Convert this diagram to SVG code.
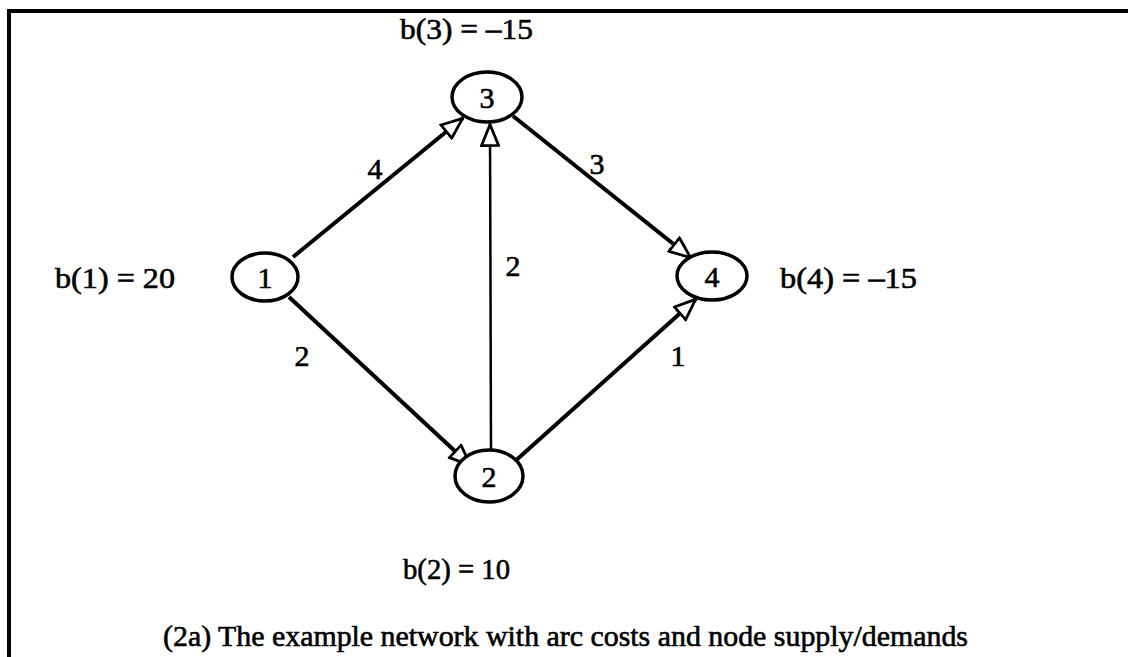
<svg xmlns="http://www.w3.org/2000/svg" width="1128" height="657" viewBox="0 0 1128 657">
<defs>
<style>
.t{font-family:"Liberation Serif","DejaVu Serif",serif;font-size:30px;fill:#000;stroke:#000;stroke-width:0.6}
.n{fill:#fff;stroke:#000;stroke-width:3.5}
.e{stroke:#000;stroke-width:4;fill:none}
.v{stroke:#000;stroke-width:2.5;fill:none}
</style>
<marker id="ah" viewBox="0 0 24 20" refX="23" refY="10" markerWidth="24" markerHeight="20" markerUnits="userSpaceOnUse" orient="auto">
<path d="M1.5,1.5 L22.5,10 L1.5,18.5 Z" fill="#fff" stroke="#000" stroke-width="2.8" stroke-linejoin="miter"/>
</marker>
</defs>
<rect width="1128" height="657" fill="#fff"/>
<g id="frame">
<path d="M9,657 L9,11 L1128,11" fill="none" stroke="#000" stroke-width="4"/>
</g>
<g id="connectors">
<line class="e" x1="293" y1="257" x2="463" y2="118" marker-end="url(#ah)"/>
<line class="v" x1="491" y1="449" x2="490" y2="124" marker-end="url(#ah)"/>
<line class="e" x1="513" y1="116" x2="691" y2="258" marker-end="url(#ah)"/>
<line class="e" x1="289" y1="297" x2="471" y2="466" marker-end="url(#ah)"/>
<line class="e" x1="513" y1="463" x2="696" y2="299" marker-end="url(#ah)"/>
<text class="t" x="375" y="179" text-anchor="middle">4</text>
<text class="t" x="513" y="276" text-anchor="middle">2</text>
<text class="t" x="597" y="174" text-anchor="middle">3</text>
<text class="t" x="302" y="366" text-anchor="middle">2</text>
<text class="t" x="678" y="366" text-anchor="middle">1</text>
</g>
<g id="node1">
<ellipse class="n" cx="265" cy="277" rx="33" ry="24"/>
<text class="t" x="265" y="288" text-anchor="middle">1</text>
<text class="t" x="55" y="288" textLength="120" lengthAdjust="spacingAndGlyphs">b(1) = 20</text>
</g>
<g id="node2">
<ellipse class="n" cx="489" cy="476" rx="34" ry="26"/>
<text class="t" x="489" y="487" text-anchor="middle">2</text>
<text class="t" x="403" y="579" textLength="107" lengthAdjust="spacingAndGlyphs">b(2) = 10</text>
</g>
<g id="node3">
<ellipse class="n" cx="487" cy="97" rx="35" ry="25"/>
<text class="t" x="487" y="108" text-anchor="middle">3</text>
<text class="t" x="400" y="39" textLength="133" lengthAdjust="spacingAndGlyphs">b(3) = –15</text>
</g>
<g id="node4">
<ellipse class="n" cx="712" cy="276" rx="35" ry="24"/>
<text class="t" x="712" y="287" text-anchor="middle">4</text>
<text class="t" x="780" y="288" textLength="137" lengthAdjust="spacingAndGlyphs">b(4) = –15</text>
</g>
<g id="caption">
<text class="t" x="163" y="646" textLength="805" lengthAdjust="spacingAndGlyphs">(2a)  The example network with arc costs and node supply/demands</text>
</g>
</svg>
